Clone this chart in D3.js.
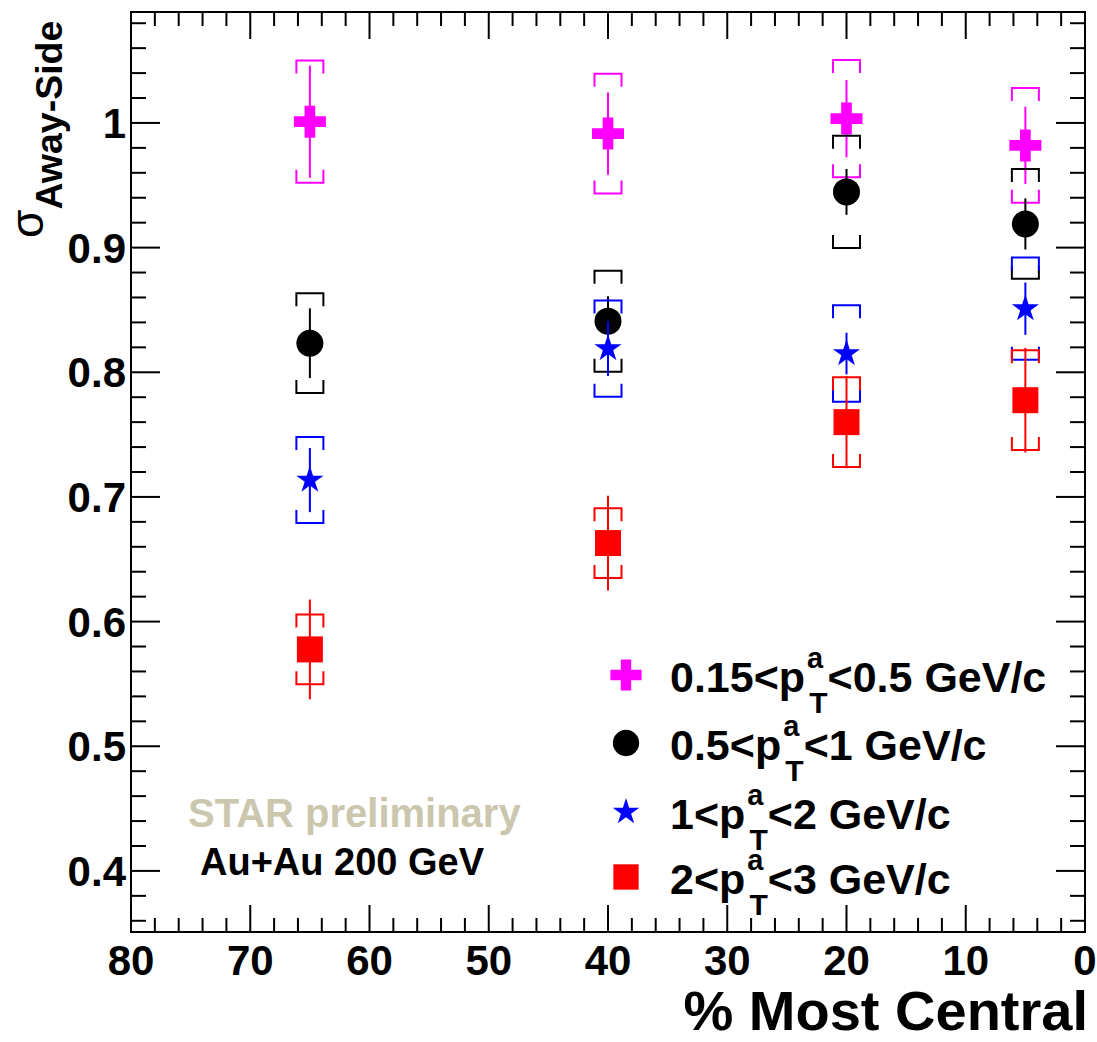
<!DOCTYPE html>
<html>
<head>
<meta charset="utf-8">
<script src="https://cdn.jsdelivr.net/npm/d3@7"></script>
<style>
  body { margin: 0; background: #fff; }
  text { font-family: "Liberation Sans", Arial, Helvetica, sans-serif; }
</style>
</head>
<body>
<script>
// centrality bins (% most central)
const centrality = [65, 40, 20, 5];

// sigma away-side per associated pT bin: value, stat error, sys error
const ptLow = [1.001, 0.9915, 1.0035, 0.982];
const ptLowStat = [0.045, 0.033, 0.031, 0.031];
const ptLowSys = [0.049, 0.048, 0.047, 0.046];

const ptMid = [0.8233, 0.841, 0.9447, 0.919];
const ptMidStat = [0.028, 0.02, 0.0184, 0.0205];
const ptMidSys = [0.040, 0.0405, 0.045, 0.044];

const ptHigh = [0.7135, 0.819, 0.815, 0.851];
const ptHighStat = [0.0257, 0.022, 0.0167, 0.021];
const ptHighSys = [0.0345, 0.0386, 0.0387, 0.041];

const ptTop = [0.5777, 0.663, 0.760, 0.7776];
const ptTopStat = [0.040, 0.038, 0.037, 0.042];
const ptTopSys = [0.028, 0.028, 0.036, 0.040];

const xTicks = [80, 70, 60, 50, 40, 30, 20, 10, 0];
const yTicks = [0.4, 0.5, 0.6, 0.7, 0.8, 0.9, 1];

const series = [
    {lo: "0.15", hi: "0.5", values: ptLow, stat: ptLowStat, sys: ptLowSys, color: "#ff00ff", symbol: d3.symbolCross, size: 569},
    {lo: "0.5", hi: "1", values: ptMid, stat: ptMidStat, sys: ptMidSys, color: "#000000", symbol: d3.symbolCircle, size: 572},
    {lo: "1", hi: "2", values: ptHigh, stat: ptHighStat, sys: ptHighSys, color: "#0000ff", symbol: d3.symbolStar, size: 230},
    {lo: "2", hi: "3", values: ptTop, stat: ptTopStat, sys: ptTopSys, color: "#ff0000", symbol: d3.symbolSquare, size: 676}
];

const width = 1097;
const height = 1042;
const margin = {left: 131, right: 12, top: 12, bottom: 110};

const x = d3.scaleLinear().domain([80, 0]).range([margin.left, width - margin.right]);
const y = d3.scaleLinear().domain([0.351, 1.089]).range([height - margin.bottom, margin.top]);

const svg = d3.select("body").append("svg")
    .attr("width", width)
    .attr("height", height);

const x0 = x.range()[0], x1 = x.range()[1];
const y0 = y.range()[0], y1 = y.range()[1];

// frame
svg.append("rect")
    .attr("x", x0).attr("y", y1)
    .attr("width", x1 - x0).attr("height", y0 - y1)
    .attr("fill", "none").attr("stroke", "#000").attr("stroke-width", 2);

// ticks on all four sides
const xMinor = d3.range(0, 81, 2);
const yMinor = d3.range(36, 109, 2).map(d => d / 100);
const isMajorX = d => d % 10 === 0;
const isMajorY = d => Math.abs(d * 10 - Math.round(d * 10)) < 1e-6;

const ticks = svg.append("g").attr("stroke", "#000").attr("stroke-width", 2);

ticks.selectAll(".xb")
    .data(xMinor)
    .join("line")
        .attr("class", "xb")
        .attr("x1", d => x(d)).attr("x2", d => x(d))
        .attr("y1", y0).attr("y2", d => y0 - (isMajorX(d) ? 27 : 14));

ticks.selectAll(".xt")
    .data(xMinor)
    .join("line")
        .attr("class", "xt")
        .attr("x1", d => x(d)).attr("x2", d => x(d))
        .attr("y1", y1).attr("y2", d => y1 + (isMajorX(d) ? 27 : 14));

ticks.selectAll(".yl")
    .data(yMinor)
    .join("line")
        .attr("class", "yl")
        .attr("y1", d => y(d)).attr("y2", d => y(d))
        .attr("x1", x0).attr("x2", d => x0 + (isMajorY(d) ? 29 : 15));

ticks.selectAll(".yr")
    .data(yMinor)
    .join("line")
        .attr("class", "yr")
        .attr("y1", d => y(d)).attr("y2", d => y(d))
        .attr("x1", x1).attr("x2", d => x1 - (isMajorY(d) ? 29 : 15));

// tick labels
svg.selectAll(".xlabel")
    .data(xTicks)
    .join("text")
        .attr("class", "xlabel")
        .attr("x", d => x(d))
        .attr("y", 975)
        .attr("text-anchor", "middle")
        .attr("font-size", 42)
        .attr("font-weight", "bold")
        .text(d => d);

svg.selectAll(".ylabel")
    .data(yTicks)
    .join("text")
        .attr("class", "ylabel")
        .attr("x", 126)
        .attr("y", d => y(d) + 15)
        .attr("text-anchor", "end")
        .attr("font-size", 42)
        .attr("font-weight", "bold")
        .text(d => d);

// axis titles
svg.append("text")
    .attr("x", 1088)
    .attr("y", 1030)
    .attr("text-anchor", "end")
    .attr("font-size", 56)
    .attr("font-weight", "bold")
    .text("% Most Central");

const ytitle = svg.append("text")
    .attr("transform", "translate(43, 238) rotate(-90)")
    .attr("text-anchor", "start");
ytitle.append("tspan")
    .attr("font-size", 46)
    .text("σ");
ytitle.append("tspan")
    .attr("font-size", 37.5)
    .attr("font-weight", "bold")
    .attr("dy", 19)
    .text("Away-Side");

// data: sys brackets, stat bars, markers
const bw = 13.5, leg = 13;
series.forEach(s => {
    const pts = centrality.map((c, i) => ({c: c, v: s.values[i], stat: s.stat[i], sys: s.sys[i]}));
    const g = svg.append("g");

    g.selectAll(".sys")
        .data(pts.flatMap(d => [{d: d, sign: 1}, {d: d, sign: -1}]))
        .join("path")
            .attr("class", "sys")
            .attr("fill", "none")
            .attr("stroke", s.color)
            .attr("stroke-width", 2)
            .attr("d", e => {
                const cx = x(e.d.c);
                const cy = y(e.d.v + e.sign * e.d.sys);
                const ly = cy + e.sign * leg;
                return `M${cx - bw},${ly}V${cy}H${cx + bw}V${ly}`;
            });

    g.selectAll(".stat")
        .data(pts)
        .join("line")
            .attr("class", "stat")
            .attr("stroke", s.color)
            .attr("stroke-width", 2)
            .attr("x1", d => x(d.c)).attr("x2", d => x(d.c))
            .attr("y1", d => y(d.v + d.stat))
            .attr("y2", d => y(d.v - d.stat));

    g.selectAll(".marker")
        .data(pts)
        .join("path")
            .attr("class", "marker")
            .attr("fill", s.color)
            .attr("transform", d => `translate(${x(d.c)},${y(d.v)})`)
            .attr("d", d3.symbol().type(s.symbol).size(s.size)());
});

// legend
const legendY = [675, 743, 812, 877];
series.forEach((s, i) => {
    svg.append("path")
        .attr("fill", s.color)
        .attr("transform", `translate(626,${legendY[i]})`)
        .attr("d", d3.symbol().type(s.symbol).size(s.size * 0.95)());

    const t = svg.append("text")
        .attr("x", 670)
        .attr("y", legendY[i] + 17)
        .attr("font-size", 43)
        .attr("font-weight", "bold");
    t.append("tspan").text(`${s.lo}<p`);
    t.append("tspan").attr("font-size", 29).attr("dy", -24).attr("dx", 2).text("a");
    t.append("tspan").attr("font-size", 30).attr("dy", 45).attr("dx", -14).text("T");
    t.append("tspan").attr("dy", -21).attr("dx", 0).text(`<${s.hi} GeV/c`);
});

// annotations
svg.append("text")
    .attr("x", 188)
    .attr("y", 827)
    .attr("font-size", 40)
    .attr("font-weight", "bold")
    .attr("fill", "#cbc6ae")
    .text("STAR preliminary");

svg.append("text")
    .attr("x", 200)
    .attr("y", 875)
    .attr("font-size", 38)
    .attr("font-weight", "bold")
    .attr("fill", "#000")
    .text("Au+Au 200 GeV");
</script>
</body>
</html>
